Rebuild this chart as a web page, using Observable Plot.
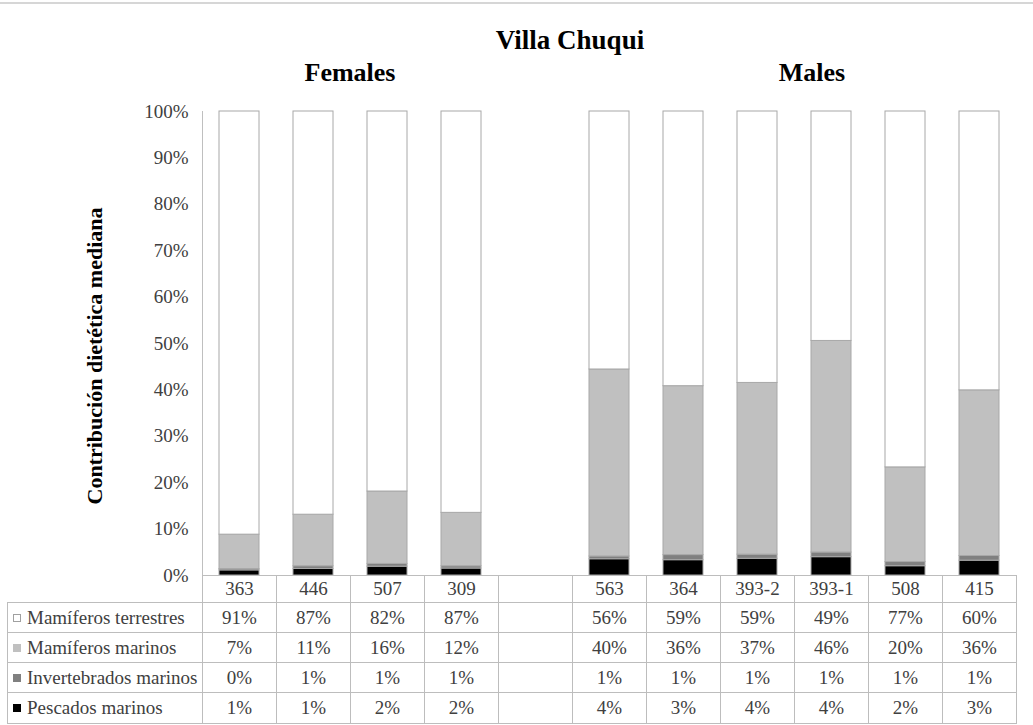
<!DOCTYPE html>
<html>
<head>
<meta charset="utf-8">
<script src="https://cdn.jsdelivr.net/npm/d3@7"></script>
<script src="https://cdn.jsdelivr.net/npm/@observablehq/plot@0.6"></script>
<style>
  body { margin: 0; background: #fff; font-family: "Liberation Serif", "Times New Roman", serif; }
  #wrap { position: relative; width: 1033px; height: 725px; overflow: hidden; background: #fff; }
  #topline { position: absolute; left: 0; top: 2px; width: 1033px; border-top: 2px solid #d6d6d6; }
  .ttl { position: absolute; font-family: "Liberation Serif", serif; font-weight: bold; color: #000; transform: translateX(-50%); white-space: nowrap; line-height: 1; }
  #ylab { position: absolute; font-family: "Liberation Serif", serif; font-weight: bold; color: #000; white-space: nowrap; line-height: 1; font-size: 22px;
          transform: translate(-50%, -50%) rotate(-90deg); }
  #chart { position: absolute; left: 0; top: 0; }
  #tbl { position: absolute; border-collapse: collapse; table-layout: fixed; font-family: "Liberation Serif", serif; font-size: 19px; color: #404040; }
  #tbl td { border: 1px solid #bdbdbd; text-align: center; padding: 0; white-space: nowrap; overflow: hidden; }
  #tbl td.lab { text-align: left; padding-left: 5px; }
  .sw { display: inline-block; width: 8px; height: 8px; margin-right: 6px; vertical-align: 2px; box-sizing: border-box; }
</style>
</head>
<body>
<div id="wrap">
  <div id="topline"></div>
  <div id="chart"></div>
</div>
<script>
// ---- data ----
const chartTitle = "Villa Chuqui";
const groupLabels = ["Females", "Males"];
const yAxisTitle = "Contribución dietética mediana";
const femaleIds = ["363", "446", "507", "309"];
const maleIds = ["563", "364", "393-2", "393-1", "508", "415"];
const gapKey = " ";
const seriesNames = ["Mamíferos terrestres", "Mamíferos marinos", "Invertebrados marinos", "Pescados marinos"];
const seriesColors = ["#ffffff", "#c0c0c0", "#808080", "#000000"];
// median dietary contribution (%), order: femaleIds then maleIds
const pescadosMarinos      = [1.1, 1.4, 1.9, 1.5,   3.5, 3.3, 3.6, 3.95, 2.0, 3.2];
const invertebradosMarinos = [0.3, 0.6, 0.6, 0.5,   0.6, 1.1, 0.9, 1.0, 0.9, 1.0];
const mamiferosMarinos     = [7.4, 11.1, 15.6, 11.5, 40.3, 36.4, 37.0, 45.6, 20.4, 35.7];
const mamiferosTerrestres  = [91.2, 86.9, 81.9, 86.5, 55.6, 59.2, 58.5, 49.45, 76.7, 60.1];
const yTicks = [0, 10, 20, 30, 40, 50, 60, 70, 80, 90, 100];

// ---- build table for the library ----
const ids = [...femaleIds, ...maleIds];
const xDomain = [...femaleIds, gapKey, ...maleIds];
const seriesValues = {
  "Pescados marinos": pescadosMarinos,
  "Invertebrados marinos": invertebradosMarinos,
  "Mamíferos marinos": mamiferosMarinos,
  "Mamíferos terrestres": mamiferosTerrestres
};
const stackOrder = ["Pescados marinos", "Invertebrados marinos", "Mamíferos marinos", "Mamíferos terrestres"];
const rows = [];
for (const s of stackOrder) ids.forEach((id, i) => rows.push({id, serie: s, value: seriesValues[s][i]}));

const W = 1033, H = 725;
const chart = Plot.plot({
  width: W, height: H,
  marginTop: 111, marginBottom: 150, marginLeft: 202, marginRight: 17,
  style: {fontFamily: "'Liberation Serif', 'Times New Roman', serif", fontSize: "19px", color: "#404040", background: "transparent"},
  x: {domain: xDomain, paddingInner: 0.46, paddingOuter: 0.23, axis: null},
  y: {domain: [0, 100], ticks: yTicks, tickFormat: d => d + "%", tickSize: 0, tickPadding: 14, label: null},
  color: {domain: seriesNames, range: seriesColors},
  marks: [
    Plot.frame({anchor: "left", stroke: "#bfbfbf"}),
    Plot.barY(rows, {x: "id", y: "value", fill: "serie", stroke: "#a8a8a8", strokeWidth: 1})
  ]
});
document.getElementById("chart").appendChild(chart);

const wrap = document.getElementById("wrap");
const xs = chart.scale("x");
const step = xs.step;
const x0 = xs.range[0];

// titles
function addText(cls, txt, left, top, size) {
  const d = document.createElement("div");
  d.className = cls; d.textContent = txt;
  d.style.left = left + "px"; d.style.top = top + "px"; d.style.fontSize = size + "px";
  wrap.appendChild(d);
}
addText("ttl", chartTitle, 570, 27, 27);
addText("ttl", groupLabels[0], x0 + step * 2, 60, 26);
addText("ttl", groupLabels[1], 812, 60, 26);
const yl = document.createElement("div");
yl.id = "ylab"; yl.textContent = yAxisTitle;
yl.style.left = "95px"; yl.style.top = "356px";
wrap.appendChild(yl);

// data table
const labW = x0 - 7;
const tbl = document.createElement("table");
tbl.id = "tbl";
tbl.style.left = "7px"; tbl.style.top = "575px";
tbl.style.width = (labW + step * xDomain.length) + "px";
const cg = document.createElement("colgroup");
[labW, ...xDomain.map(() => step)].forEach(w => { const c = document.createElement("col"); c.style.width = w + "px"; cg.appendChild(c); });
tbl.appendChild(cg);
const rowHeights = [27, 30, 30, 30, 31];
const hr = document.createElement("tr");
hr.style.height = rowHeights[0] + "px";
const blank = document.createElement("td");
blank.style.borderTop = "none"; blank.style.borderLeft = "none";
hr.appendChild(blank);
xDomain.forEach(k => { const td = document.createElement("td"); td.textContent = k.trim(); hr.appendChild(td); });
tbl.appendChild(hr);
seriesNames.forEach((s, si) => {
  const tr = document.createElement("tr");
  tr.style.height = rowHeights[si + 1] + "px";
  const lab = document.createElement("td");
  lab.className = "lab";
  const sw = document.createElement("span");
  sw.className = "sw";
  sw.style.background = seriesColors[si];
  sw.style.border = si === 0 ? "1px solid #a0a0a0" : "none";
  lab.appendChild(sw);
  lab.appendChild(document.createTextNode(s));
  tr.appendChild(lab);
  xDomain.forEach(k => {
    const td = document.createElement("td");
    const i = ids.indexOf(k);
    td.textContent = i < 0 ? "" : Math.round(seriesValues[s][i]) + "%";
    tr.appendChild(td);
  });
  tbl.appendChild(tr);
});
wrap.appendChild(tbl);
</script>
</body>
</html>
